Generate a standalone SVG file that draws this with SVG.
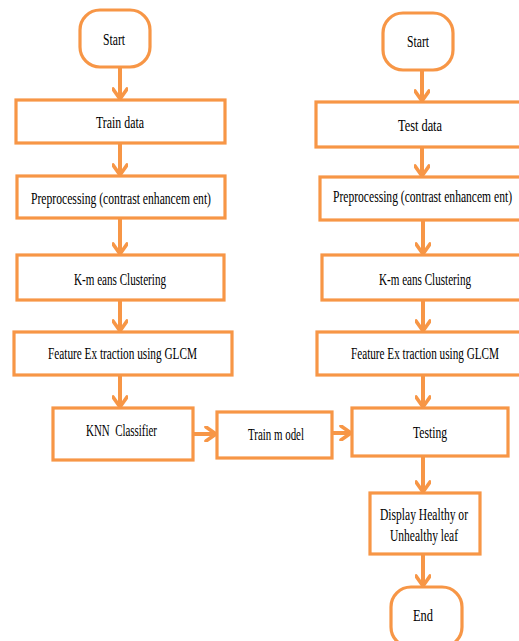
<svg xmlns="http://www.w3.org/2000/svg" width="519" height="641" viewBox="0 0 519 641">
  <style>
    .box { fill: #ffffff; stroke: #F79646; stroke-width: 3.2; }
    .term { fill: #ffffff; stroke: #F79646; stroke-width: 3.2; }
    .lbl { font-family: "Liberation Serif", "Times New Roman", serif; font-size: 12px; fill: #000000; text-anchor: middle; white-space: pre; }
    .flow { fill: none; stroke: #F79646; stroke-width: 4; marker-end: url(#chev); }
  </style>
  <defs>
    <marker id="chev" viewBox="0 0 14 16" refX="12" refY="8" markerWidth="14" markerHeight="16" markerUnits="userSpaceOnUse" orient="auto">
      <path d="M2,1 L12,8 L2,15" fill="none" stroke="#F79646" stroke-width="3.6" stroke-linejoin="round" stroke-linecap="round"/>
    </marker>
  </defs>
  <rect width="519" height="641" fill="#ffffff"/>

  <!-- connectors -->
  <g id="connectors">
    <line class="flow" x1="120" y1="67" x2="120" y2="99"/>
    <line class="flow" x1="120" y1="143" x2="120" y2="175"/>
    <line class="flow" x1="120" y1="218" x2="120" y2="254"/>
    <line class="flow" x1="120" y1="300" x2="120" y2="331"/>
    <line class="flow" x1="120" y1="375" x2="120" y2="407"/>
    <line class="flow" x1="193" y1="434" x2="216" y2="434"/>
    <line class="flow" x1="332" y1="433" x2="351" y2="433"/>
    <line class="flow" x1="422" y1="70" x2="422" y2="101"/>
    <line class="flow" x1="422" y1="147" x2="422" y2="176"/>
    <line class="flow" x1="423" y1="220" x2="423" y2="254"/>
    <line class="flow" x1="423" y1="300" x2="423" y2="331"/>
    <line class="flow" x1="423" y1="375" x2="423" y2="407"/>
    <line class="flow" x1="423" y1="456" x2="423" y2="492"/>
    <line class="flow" x1="423" y1="554" x2="423" y2="586"/>
  </g>

  <!-- training branch -->
  <g id="start-train">
    <rect class="term" x="80" y="10" width="70" height="57" rx="20" ry="20"/>
    <text class="lbl" transform="translate(114,45) scale(1,1.38)" textLength="22" lengthAdjust="spacingAndGlyphs">Start</text>
  </g>
  <g id="train-data">
    <rect class="box" x="16" y="100" width="209" height="43"/>
    <text class="lbl" transform="translate(120,128) scale(1,1.38)" textLength="48" lengthAdjust="spacingAndGlyphs">Train data</text>
  </g>
  <g id="preprocess-train">
    <rect class="box" x="17" y="176" width="208" height="42"/>
    <text class="lbl" transform="translate(121,204) scale(1,1.38)" textLength="180" lengthAdjust="spacingAndGlyphs">Preprocessing (contrast enhancem ent)</text>
  </g>
  <g id="kmeans-train">
    <rect class="box" x="17" y="255" width="207" height="45"/>
    <text class="lbl" transform="translate(120,285) scale(1,1.38)" textLength="92" lengthAdjust="spacingAndGlyphs">K-m eans Clustering</text>
  </g>
  <g id="glcm-train">
    <rect class="box" x="14" y="332" width="218" height="43"/>
    <text class="lbl" transform="translate(122.5,359) scale(1,1.38)" textLength="149" lengthAdjust="spacingAndGlyphs">Feature Ex traction using GLCM</text>
  </g>
  <g id="knn">
    <rect class="box" x="53" y="408" width="140" height="52"/>
    <text class="lbl" transform="translate(121.5,436) scale(1,1.38)" textLength="71" lengthAdjust="spacingAndGlyphs" xml:space="preserve">KNN  Classifier</text>
  </g>
  <g id="train-model">
    <rect class="box" x="217" y="412" width="115" height="46"/>
    <text class="lbl" transform="translate(276,440) scale(1,1.38)" textLength="56" lengthAdjust="spacingAndGlyphs">Train m odel</text>
  </g>

  <!-- testing branch -->
  <g id="start-test">
    <rect class="term" x="383" y="13" width="70" height="57" rx="20" ry="20"/>
    <text class="lbl" transform="translate(418,47) scale(1,1.38)" textLength="22" lengthAdjust="spacingAndGlyphs">Start</text>
  </g>
  <g id="test-data">
    <rect class="box" x="316" y="102" width="210" height="45"/>
    <text class="lbl" transform="translate(420,131) scale(1,1.38)" textLength="44" lengthAdjust="spacingAndGlyphs">Test data</text>
  </g>
  <g id="preprocess-test">
    <rect class="box" x="320" y="177" width="206" height="43"/>
    <text class="lbl" transform="translate(422.5,202) scale(1,1.38)" textLength="179" lengthAdjust="spacingAndGlyphs">Preprocessing (contrast enhancem ent)</text>
  </g>
  <g id="kmeans-test">
    <rect class="box" x="322" y="255" width="204" height="45"/>
    <text class="lbl" transform="translate(425,285) scale(1,1.38)" textLength="92" lengthAdjust="spacingAndGlyphs">K-m eans Clustering</text>
  </g>
  <g id="glcm-test">
    <rect class="box" x="317" y="332" width="209" height="43"/>
    <text class="lbl" transform="translate(425,359) scale(1,1.38)" textLength="148" lengthAdjust="spacingAndGlyphs">Feature Ex traction using GLCM</text>
  </g>
  <g id="testing">
    <rect class="box" x="352" y="408" width="156" height="48"/>
    <text class="lbl" transform="translate(430,438) scale(1,1.38)" textLength="34" lengthAdjust="spacingAndGlyphs">Testing</text>
  </g>
  <g id="display">
    <rect class="box" x="370" y="493" width="110" height="61"/>
    <text class="lbl" transform="translate(424,520) scale(1,1.38)" textLength="88" lengthAdjust="spacingAndGlyphs">Display Healthy or</text>
    <text class="lbl" transform="translate(424,541) scale(1,1.38)" textLength="68" lengthAdjust="spacingAndGlyphs">Unhealthy leaf</text>
  </g>
  <g id="end">
    <rect class="term" x="391" y="587" width="71" height="60" rx="20" ry="20"/>
    <text class="lbl" transform="translate(423,621) scale(1,1.38)" textLength="20" lengthAdjust="spacingAndGlyphs">End</text>
  </g>
</svg>
